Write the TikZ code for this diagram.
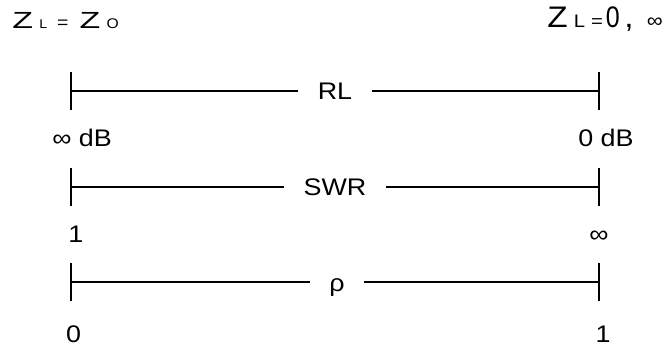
\documentclass[tikz,border=0pt]{standalone}
\usepackage{fontspec}
\setmainfont{Liberation Sans}[FakeStretch=1.12]
\usetikzlibrary{positioning}

\newcommand{\zbigright}{\fontsize{22.3}{26}\selectfont}
\newcommand{\zsubright}{\fontsize{13.6}{16}\selectfont}
\newcommand{\zinfright}{\fontsize{15}{18}\selectfont}
\newcommand{\zbigleft}{\fontsize{17.5}{21}\selectfont}
\newcommand{\zsubleft}{\fontsize{9.5}{11}\selectfont}
\newcommand{\zeqleft}{\fontsize{13}{15}\selectfont}
\newcommand{\zoleft}{\fontsize{10.5}{12}\selectfont}

\begin{document}
\begin{tikzpicture}[
    x=0.75pt, y=-0.75pt,
    lbl/.style={font=\fontsize{18}{21}\selectfont, inner sep=0pt},
    barlabel/.style={lbl, inner xsep=14.5pt},
    bar/.style={line width=2pt}
]
    \useasboundingbox (0,0) rectangle (672,349);

    % load conditions
    \node[inner sep=0pt, anchor=base west] (zmatch) at (12.2,28.3)
        {\zbigleft\scalebox{1.3}[1]{Z}\hspace{4.6pt}{\zsubleft L}\hspace{7.5pt}{\zeqleft =}\hspace{8.2pt}\scalebox{1.3}[1]{Z}\hspace{4.7pt}{\zoleft O}};
    \node[inner sep=0pt, anchor=base west] (zshort) at (547.2,28)
        {\zbigright Z\hspace{4.5pt}{\zsubright L}\hspace{4.6pt}{\zsubright =}\hspace{2pt}\scalebox{0.75}[1]{0}\hspace{3.5pt},\hspace{10pt}{\zinfright ∞}};

    % return loss
    \coordinate (rlL) at (71,91);
    \coordinate (rlR) at (599,91);
    \node[barlabel] (rl) at (335,91) {RL};
    \draw[bar] (rlL) -- (rl);
    \draw[bar] (rl) -- (rlR);
    \draw[bar] ([yshift=14.25pt]rlL) -- ([yshift=-14.25pt]rlL);
    \draw[bar] ([yshift=14.25pt]rlR) -- ([yshift=-14.25pt]rlR);
    \node[lbl, anchor=base west] (rlmin) at (52,147) {∞ dB};
    \node[lbl, anchor=base west] (rlmax) at (578,147) {0 dB};

    % standing wave ratio
    \coordinate (swrL) at (71,187);
    \coordinate (swrR) at (599,187);
    \node[barlabel] (swr) at (335,187) {SWR};
    \draw[bar] (swrL) -- (swr);
    \draw[bar] (swr) -- (swrR);
    \draw[bar] ([yshift=14.25pt]swrL) -- ([yshift=-14.25pt]swrL);
    \draw[bar] ([yshift=14.25pt]swrR) -- ([yshift=-14.25pt]swrR);
    \node[lbl, anchor=base west] (swrmin) at (68,243) {1};
    \node[lbl, anchor=base] (swrmax) at (599,243) {∞};

    % reflection coefficient
    \coordinate (rhoL) at (71,282);
    \coordinate (rhoR) at (599,282);
    \node[barlabel, text height=15pt, text depth=0pt] (rho) at (337,282) {ρ};
    \draw[bar] (rhoL) -- (rho);
    \draw[bar] (rho) -- (rhoR);
    \draw[bar] ([yshift=14.25pt]rhoL) -- ([yshift=-14.25pt]rhoL);
    \draw[bar] ([yshift=14.25pt]rhoR) -- ([yshift=-14.25pt]rhoR);
    \node[lbl, anchor=base] (rhomin) at (73.5,343) {0};
    \node[lbl, anchor=base] (rhomax) at (603,343) {1};

\end{tikzpicture}
\end{document}
